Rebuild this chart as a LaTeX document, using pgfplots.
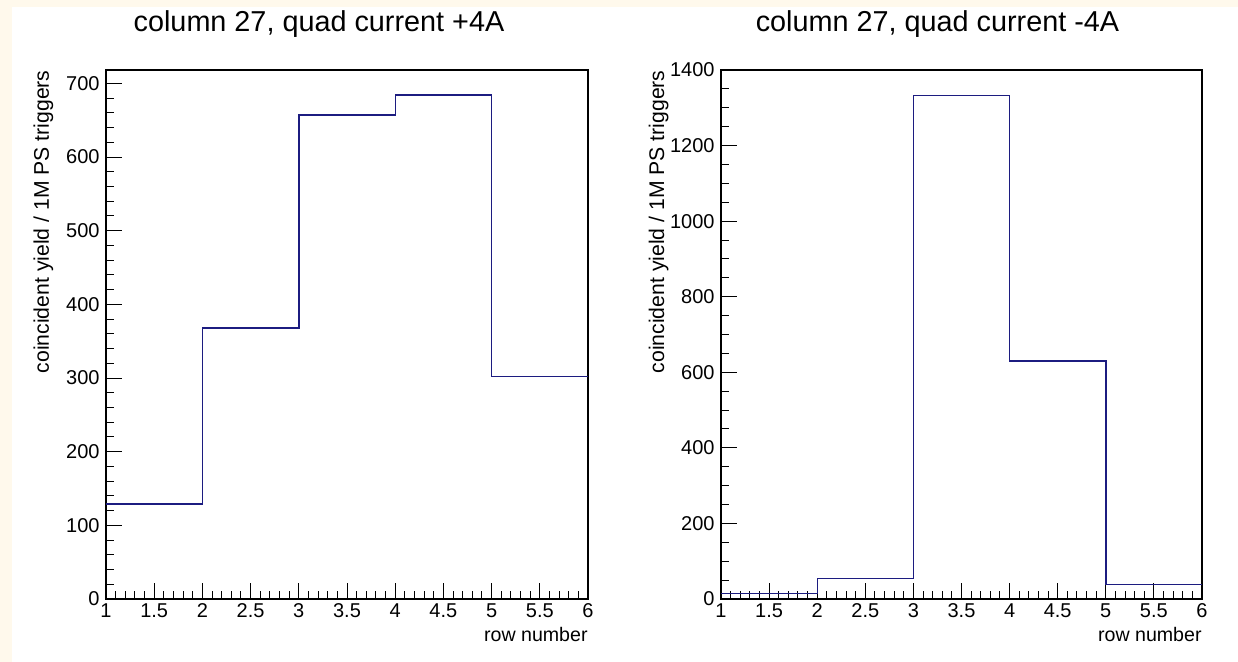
\documentclass[border=0pt]{standalone}
\usepackage{fontspec}
\setmainfont{Liberation Sans}
\usepackage{pgfplots}
\pgfplotsset{compat=1.18}

\definecolor{histblue}{RGB}{28,28,128}
\definecolor{cream}{RGB}{255,249,236}

% ROOT-like frame: box axis, inward ticks on bottom and left only
\pgfplotsset{
  rootframe/.style={
    scale only axis,
    anchor=south west,
    width=241pt, height=264.5pt,
    xmin=1, xmax=6, ymin=0,
    xtick={1,1.5,2,2.5,3,3.5,4,4.5,5,5.5,6},
    minor x tick num=4,
    tick align=inside,
    tick pos=left,
    major tick length=8pt,
    minor tick length=4pt,
    axis line style={line width=0.55pt, black},
    tick style={line width=0.5pt, black},
    /pgf/number format/assume math mode=true,
    /pgf/number format/1000 sep={},
    scaled ticks=false,
    tick label style={font=\fontsize{10}{12}\selectfont, inner sep=0pt, black},
    xticklabel style={yshift=-2pt},
    yticklabel style={xshift=-3pt},
    every axis x label/.style={at={(rel axis cs:1,0)}, anchor=base east,
      yshift=-21.5pt, inner sep=0pt, font=\fontsize{9.8}{11}\selectfont},
    every axis y label/.style={at={(rel axis cs:0,1)}, xshift=-28.5pt, rotate=90,
      anchor=base east, inner sep=0pt, font=\fontsize{10.6}{12}\selectfont},
    every axis title/.style={at={(rel axis cs:0.5,1)}, anchor=base,
      yshift=19pt, inner sep=0pt, font=\fontsize{14.4}{17}\selectfont},
    xlabel={row number},
    ylabel={coincident yield / 1M PS triggers},
  },
  histline/.style={const plot, no marks, color=histblue, line width=0.7pt},
}

\begin{document}
\begin{tikzpicture}[x=1pt,y=1pt]
\path[use as bounding box] (0,0) rectangle (619,331);
\fill[cream] (0,0) rectangle (6,331);
\fill[cream] (0,327.5) rectangle (619,331);

% left pad: +4A
\begin{axis}[rootframe,
  at={(53pt,31.5pt)},
  ymax=718.2,
  ytick={0,100,200,300,400,500,600,700},
  minor y tick num=4,
  title={column 27, quad current +4A},
  title style={xshift=-14pt}]
\addplot[histline] coordinates {
  (1,129) (2,368) (3,657) (4,684) (5,302) (6,302)
};
\end{axis}

% right pad: -4A
\begin{axis}[rootframe,
  at={(360.5pt,31.5pt)},
  width=240.5pt,
  ymax=1400,
  ytick={0,200,400,600,800,1000,1200,1400},
  minor y tick num=3,
  title={column 27, quad current -4A},
  title style={xshift=-12pt}]
\addplot[histline] coordinates {
  (1,15) (2,55) (3,1333) (4,630) (5,38) (6,38)
};
\end{axis}
\end{tikzpicture}
\end{document}
